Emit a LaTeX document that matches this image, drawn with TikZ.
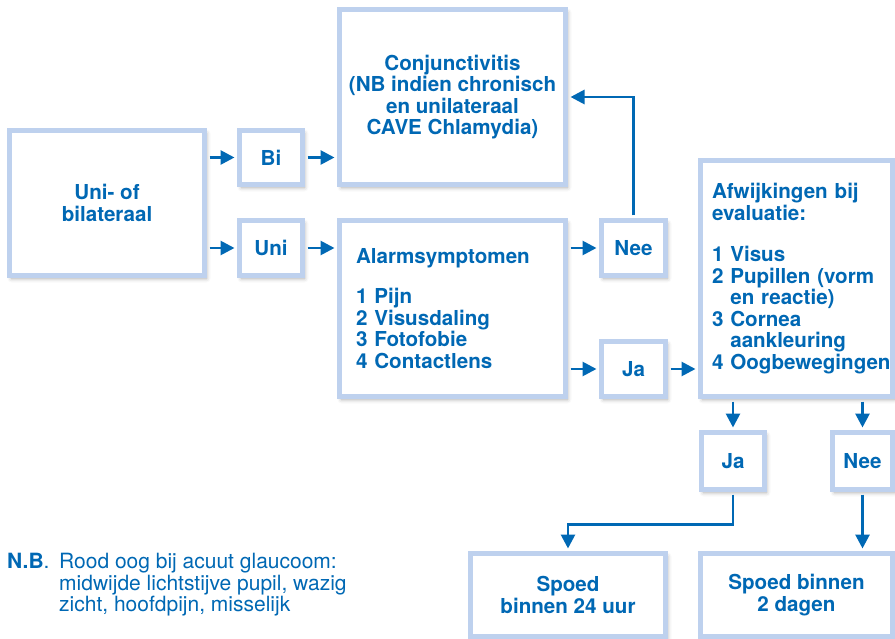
\documentclass[tikz,border=0pt]{standalone}
\usepackage{fontspec}
\setmainfont{TeX Gyre Heros}
\usetikzlibrary{arrows.meta,shadows.blur}
\definecolor{frameblue}{RGB}{190,209,238}
\definecolor{textblue}{RGB}{0,104,180}
\begin{document}
\begin{tikzpicture}[x=1pt,y=-1pt,
	box/.style={draw=frameblue, line width=5pt, fill=white, text=textblue, align=center, inner sep=0pt,
		font=\fontsize{20.6}{21.5}\selectfont\bfseries,
		blur shadow={shadow xshift=2pt, shadow yshift=-3pt, shadow blur radius=4pt, shadow opacity=35}},
	arr/.style={draw=textblue, line width=2.8pt, -{Triangle[length=14pt,width=14pt]}, shorten <=2.5pt, shorten >=2.5pt},
	note/.style={anchor=north west, inner sep=0pt, align=left, text=textblue, font=\fontsize{21}{21.5}\selectfont}]
	\useasboundingbox (0,0) rectangle (895,639);
	\node (uob)   at (107,  203)	[box, minimum width=195pt, minimum height=145pt]	{Uni- of\\bilateraal};
	\node (bi)    at (271,  157.5)	[box, minimum width=63pt, minimum height=54pt]	{Bi};
	\node (uni)   at (271,  248)	[box, minimum width=63pt, minimum height=55pt]	{Uni};
	\node (conj)  at (452.5, 97)	[box, minimum width=226pt, minimum height=175pt]	{Conjunctivitis\\(NB indien chronisch\\en unilateraal\\CAVE Chlamydia)};
	\node (alarm) at (452.5, 308.5)	[box, minimum height=176pt, align=left, inner xsep=16.5pt, text width=193pt]
		{Alarmsymptomen\\[19pt]1 Pijn\\2 Visusdaling\\3 Fotofobie\\4 Contactlens};
	\node (nee1)  at (633.5, 248)	[box, minimum width=64pt, minimum height=55pt]	{Nee};
	\node (ja1)   at (633.5, 369)	[box, minimum width=64pt, minimum height=55pt]	{Ja};
	\node (afw)   at (796.5, 278.5)	[box, minimum height=236pt, align=left, inner xsep=11.5pt, text width=169pt]
		{\mbox{Afwijkingen bij}\\evaluatie:\\[20pt]1 Visus\\\mbox{2 Pupillen (vorm}\\\mbox{\hphantom{2 }en reactie)}\\3 Cornea\\\hphantom{2 }aankleuring\\\mbox{4 Oogbewegingen}};
	\node (ja2)   at (733,  461)	[box, minimum width=63pt, minimum height=57pt]	{Ja};
	\node (nee2)  at (862.5, 461)	[box, minimum width=60pt, minimum height=57pt]	{Nee};
	\node (sp24)  at (568,  595)	[box, minimum width=195pt, minimum height=83pt]	{Spoed\\binnen 24 uur};
	\node (sp2)   at (796.5, 595)	[box, minimum width=192pt, minimum height=83pt]	{Spoed binnen\\2 dagen};
	\node (nb)     at (7,  553)	[note]	{\textbf{N.B}.};
	\node (nbtext) at (59, 553)	[note]	{Rood oog bij acuut glaucoom:\\midwijde lichtstijve pupil, wazig\\zicht, hoofdpijn, misselijk};
	\draw[arr] (uob.east |- bi.west) -- (bi.west);
	\draw[arr] (uob.east |- uni.west) -- (uni.west);
	\draw[arr] (bi.east) -- (bi.east -| conj.west);
	\draw[arr] (uni.east) -- (uni.east -| alarm.west);
	\draw[arr] (alarm.east |- nee1.west) -- (nee1.west);
	\draw[arr] (alarm.east |- ja1.west) -- (ja1.west);
	\draw[arr] (nee1.north) |- (conj.east);
	\draw[arr] (ja1.east) -- (ja1.east -| afw.west);
	\draw[arr] (afw.south -| ja2.north) -- (ja2.north);
	\draw[arr] (afw.south -| nee2.north) -- (nee2.north);
	\draw[arr] (ja2.south) -- ++(0,32.5) -| (sp24.north);
	\draw[arr] (nee2.south) -- (sp2.north -| nee2.south);
\end{tikzpicture}
\end{document}
